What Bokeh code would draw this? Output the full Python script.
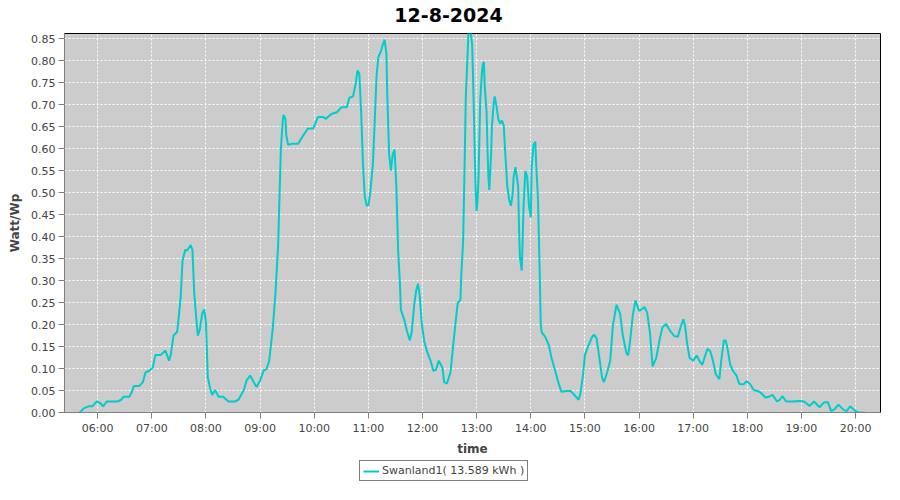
import pandas as pd
from bokeh.plotting import figure
from bokeh.layouts import column
from bokeh.models import (Range1d, FixedTicker, DatetimeTickFormatter, NumeralTickFormatter,
                          Legend, LegendItem, ColumnDataSource, Label)
from bokeh.embed import file_html
from bokeh.resources import INLINE

DAY = "2024-08-12"
TITLE = "12-8-2024"
SERIES_LABEL = "Swanland1( 13.589 kWh )"

times = [
    "05:40", "05:45", "05:50", "05:54", "05:59", "06:03", "06:06", "06:10", "06:15", "06:22",
    "06:26", "06:29", "06:35", "06:38", "06:40", "06:46", "06:50", "06:53", "06:57", "07:01",
    "07:04", "07:10", "07:15", "07:19", "07:21", "07:24", "07:28", "07:30", "07:32", "07:34",
    "07:37", "07:39", "07:43", "07:45", "07:47", "07:49", "07:51", "07:53", "07:56", "07:58",
    "08:00", "08:02", "08:05", "08:07", "08:10", "08:14", "08:19", "08:25", "08:32", "08:36",
    "08:42", "08:45", "08:49", "08:53", "08:56", "09:00", "09:04", "09:07", "09:10", "09:14",
    "09:17", "09:20", "09:21", "09:22", "09:23", "09:25", "09:26", "09:28", "09:29", "09:31",
    "09:35", "09:42", "09:48", "09:53", "09:59", "10:04", "10:10", "10:13", "10:19", "10:25",
    "10:30", "10:36", "10:39", "10:43", "10:46", "10:48", "10:50", "10:52", "10:54", "10:56",
    "10:58", "11:00", "11:02", "11:05", "11:07", "11:09", "11:11", "11:14", "11:16", "11:18",
    "11:20", "11:21", "11:23", "11:25", "11:27", "11:29", "11:31", "11:33", "11:35", "11:36",
    "11:40", "11:43", "11:46", "11:48", "11:51", "11:53", "11:55", "11:57", "11:59", "12:02",
    "12:05", "12:09", "12:12", "12:15", "12:18", "12:22", "12:24", "12:27", "12:31", "12:34",
    "12:37", "12:39", "12:42", "12:43", "12:45", "12:46", "12:47", "12:48", "12:50", "12:51",
    "12:53", "12:55", "12:56", "12:57", "12:58", "12:59", "13:00", "13:01", "13:02", "13:03",
    "13:04", "13:06", "13:07", "13:08", "13:09", "13:11", "13:12", "13:13", "13:14", "13:16",
    "13:17", "13:19", "13:20", "13:22", "13:24", "13:26", "13:28", "13:30", "13:32", "13:34",
    "13:36", "13:38", "13:40", "13:41", "13:43", "13:44", "13:46", "13:47", "13:48", "13:50",
    "13:51", "13:52", "13:54", "13:56", "13:58", "14:00", "14:01", "14:03", "14:05", "14:06",
    "14:08", "14:09", "14:10", "14:11", "14:12", "14:16", "14:20", "14:23", "14:27", "14:31",
    "14:34", "14:40", "14:44", "14:47", "14:53", "14:55", "14:58", "15:00", "15:04", "15:08",
    "15:10", "15:13", "15:16", "15:19", "15:21", "15:24", "15:28", "15:31", "15:35", "15:39",
    "15:42", "15:46", "15:48", "15:50", "15:53", "15:56", "16:00", "16:04", "16:06", "16:09",
    "16:12", "16:15", "16:19", "16:23", "16:26", "16:30", "16:34", "16:39", "16:43", "16:46",
    "16:49", "16:51", "16:53", "16:56", "17:00", "17:04", "17:07", "17:10", "17:13", "17:16",
    "17:19", "17:22", "17:25", "17:29", "17:31", "17:34", "17:36", "17:38", "17:41", "17:44",
    "17:48", "17:51", "17:56", "17:59", "18:03", "18:07", "18:11", "18:15", "18:20", "18:24",
    "18:28", "18:33", "18:36", "18:39", "18:43", "18:50", "18:58", "19:03", "19:09", "19:14",
    "19:20", "19:25", "19:29", "19:33", "19:37", "19:41", "19:46", "19:50", "19:54", "20:00",
    "20:03", "20:10",
]

watt_wp = [
    0.000, 0.010, 0.014, 0.014, 0.025, 0.021, 0.014, 0.025, 0.025, 0.025,
    0.029, 0.036, 0.036, 0.047, 0.060, 0.060, 0.069, 0.091, 0.095, 0.102,
    0.131, 0.131, 0.141, 0.118, 0.131, 0.175, 0.183, 0.220, 0.264, 0.345,
    0.370, 0.368, 0.381, 0.370, 0.271, 0.220, 0.175, 0.187, 0.227, 0.234,
    0.205, 0.080, 0.051, 0.040, 0.051, 0.036, 0.036, 0.025, 0.025, 0.029,
    0.051, 0.073, 0.084, 0.069, 0.058, 0.073, 0.096, 0.098, 0.117, 0.190,
    0.271, 0.381, 0.455, 0.528, 0.598, 0.661, 0.677, 0.668, 0.631, 0.609,
    0.611, 0.611, 0.631, 0.646, 0.646, 0.672, 0.672, 0.668, 0.679, 0.683,
    0.694, 0.694, 0.716, 0.719, 0.749, 0.778, 0.770, 0.683, 0.565, 0.492,
    0.471, 0.471, 0.499, 0.565, 0.661, 0.763, 0.808, 0.822, 0.837, 0.848,
    0.815, 0.719, 0.587, 0.550, 0.587, 0.598, 0.514, 0.367, 0.293, 0.234,
    0.209, 0.183, 0.164, 0.183, 0.249, 0.278, 0.293, 0.264, 0.205, 0.161,
    0.139, 0.117, 0.095, 0.097, 0.118, 0.102, 0.069, 0.066, 0.091, 0.153,
    0.212, 0.249, 0.256, 0.315, 0.389, 0.492, 0.602, 0.719, 0.815, 0.870,
    0.870, 0.837, 0.763, 0.675, 0.580, 0.499, 0.458, 0.484, 0.528, 0.616,
    0.712, 0.778, 0.793, 0.797, 0.741, 0.683, 0.602, 0.536, 0.506, 0.587,
    0.653, 0.705, 0.719, 0.697, 0.668, 0.657, 0.664, 0.653, 0.580, 0.514,
    0.484, 0.470, 0.499, 0.536, 0.558, 0.543, 0.514, 0.418, 0.352, 0.323,
    0.396, 0.470, 0.550, 0.536, 0.470, 0.444, 0.558, 0.609, 0.616, 0.565,
    0.484, 0.396, 0.308, 0.205, 0.183, 0.172, 0.153, 0.124, 0.095, 0.065,
    0.047, 0.049, 0.049, 0.043, 0.029, 0.043, 0.087, 0.131, 0.153, 0.172,
    0.177, 0.168, 0.124, 0.080, 0.069, 0.087, 0.117, 0.198, 0.245, 0.225,
    0.175, 0.135, 0.130, 0.161, 0.220, 0.255, 0.231, 0.236, 0.240, 0.227,
    0.183, 0.105, 0.124, 0.168, 0.194, 0.201, 0.187, 0.174, 0.172, 0.194,
    0.212, 0.198, 0.161, 0.124, 0.118, 0.130, 0.117, 0.108, 0.128, 0.145,
    0.139, 0.117, 0.087, 0.076, 0.117, 0.164, 0.164, 0.146, 0.109, 0.095,
    0.084, 0.065, 0.064, 0.071, 0.065, 0.051, 0.049, 0.045, 0.034, 0.036,
    0.040, 0.025, 0.029, 0.037, 0.025, 0.025, 0.026, 0.025, 0.015, 0.025,
    0.012, 0.023, 0.024, 0.003, 0.008, 0.018, 0.007, 0.003, 0.014, 0.003,
    0.000, 0.000,
]

hour_ticks = ["06:00", "07:00", "08:00", "09:00", "10:00", "11:00", "12:00", "13:00",
              "14:00", "15:00", "16:00", "17:00", "18:00", "19:00", "20:00"]
y_ticks = [0.00, 0.05, 0.10, 0.15, 0.20, 0.25, 0.30, 0.35, 0.40, 0.45,
           0.50, 0.55, 0.60, 0.65, 0.70, 0.75, 0.80, 0.85]
x_start, x_end = "05:23:12", "20:27:36"
y_start, y_end = 0.0, 0.862


def ts(t):
    return pd.Timestamp(f"{DAY} {t}")


src = ColumnDataSource(dict(t=[ts(t) for t in times], v=watt_wp))

FONT = "DejaVu Sans"
TXT = "#444444"
LINE_COLOR = "#00cccc"


def strip(height):
    s = figure(width=884, height=height, output_backend="svg", toolbar_location=None,
               x_range=Range1d(0, 1), y_range=Range1d(0, 1),
               min_border_left=0, min_border_right=0, min_border_top=0, min_border_bottom=0,
               background_fill_color="white", border_fill_color="white")
    s.outline_line_color = None
    s.axis.visible = False
    s.grid.visible = False
    return s


# title strip
head = strip(26)
head.add_layout(Label(x=384, y=12, x_units="screen", y_units="screen", text=TITLE,
                      text_align="center", text_baseline="alphabetic",
                      text_font=FONT, text_font_size="19px", text_font_style="bold",
                      text_color="black"))

# main chart
p = figure(width=884, height=432, x_axis_type="datetime",
           x_range=Range1d(ts(x_start), ts(x_end)), y_range=Range1d(y_start, y_end),
           output_backend="svg", toolbar_location=None,
           min_border_left=64, min_border_right=4, min_border_top=7, min_border_bottom=44,
           background_fill_color="#cccccc", border_fill_color="white")
p.title.visible = False
p.outline_line_color = "black"
p.outline_line_width = 1

line = p.line("t", "v", source=src, line_color=LINE_COLOR, line_width=2)

for g in (p.xgrid, p.ygrid):
    g.grid_line_color = "white"
    g.grid_line_dash = "2 2"
    g.grid_line_width = 1

p.xaxis.ticker = FixedTicker(ticks=[ts(h).value // 10**6 for h in hour_ticks])
p.xaxis.formatter = DatetimeTickFormatter(hours="%H:%M", minutes="%H:%M", hourmin="%H:%M",
                                          days="%H:%M", minsec="%H:%M", seconds="%H:%M")
p.yaxis.ticker = FixedTicker(ticks=y_ticks)
p.yaxis.formatter = NumeralTickFormatter(format="0.00")

for ax in (p.xaxis[0], p.yaxis[0]):
    ax.axis_line_color = "#808080"
    ax.major_tick_line_color = "#808080"
    ax.major_tick_in = 0
    ax.major_tick_out = 6
    ax.minor_tick_line_color = None
    ax.major_label_text_font = FONT
    ax.major_label_text_font_size = "11px"
    ax.major_label_text_color = TXT
    ax.major_label_standoff = 3
    ax.axis_label_text_font = FONT
    ax.axis_label_text_font_size = "12px"
    ax.axis_label_text_font_style = "bold"
    ax.axis_label_text_color = TXT

p.xaxis.axis_label = "time"
p.xaxis.axis_label_standoff = 4
p.yaxis.axis_label = "Watt/Wp"
p.yaxis.axis_label_standoff = 6

# legend strip below the chart (its key line uses the same data, kept out of view)
lg = strip(26)
key = lg.line("t", "v", source=src, line_color=LINE_COLOR, line_width=2)
legend = Legend(items=[LegendItem(label=SERIES_LABEL, renderers=[key])],
                location=(295, 3), orientation="horizontal",
                border_line_color="black", border_line_width=1,
                background_fill_color="white", background_fill_alpha=1.0,
                label_text_font=FONT, label_text_font_size="11px", label_text_color=TXT,
                glyph_width=16, glyph_height=10, label_standoff=3,
                padding=3, margin=0, spacing=0, label_height=12)
lg.add_layout(legend)

layout = column(head, p, lg, spacing=0)
open("out.html", "w").write(file_html(layout, INLINE))
